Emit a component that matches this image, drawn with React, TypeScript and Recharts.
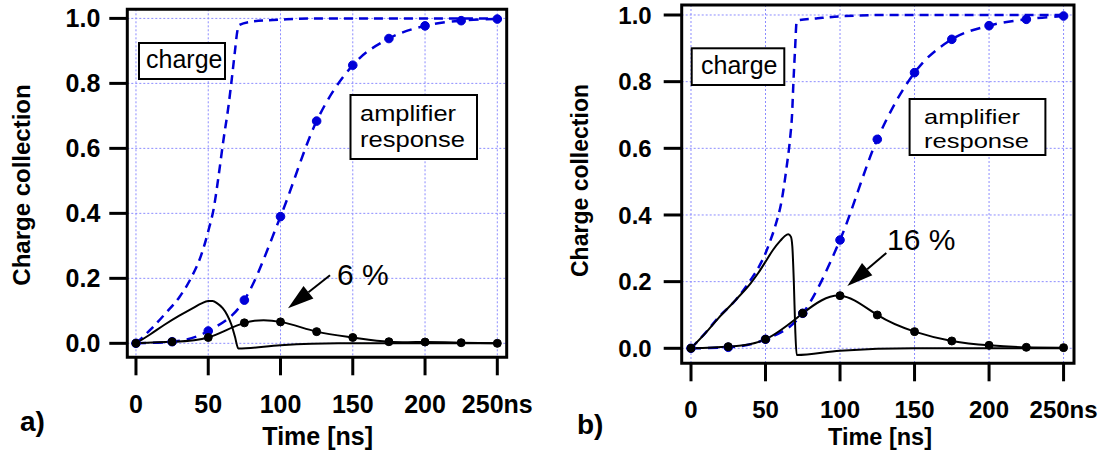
import React from 'react';
import { LineChart, Line, XAxis, YAxis, CartesianGrid, ReferenceArea, ReferenceDot } from 'recharts';

const FONT = '"Liberation Sans", Arial, Helvetica, sans-serif';
const BLUE = '#0000d8';
const GRID = '#8c8cff';

const timeTicks = [0, 50, 100, 150, 200, 250];
const chargeTicks = [0, 0.2, 0.4, 0.6, 0.8, 1.0];
const markerTimes = [0, 25, 50, 75, 100, 125, 150, 175, 200, 225, 250];

// panel a) : 6 %
const chargeTimesA = [0, 10, 20, 30, 38, 45, 50, 54, 57, 60.5, 64, 66.2, 68.5, 70.1, 71.5, 80, 100, 120, 250];
const chargeA = [0, 0.042, 0.09, 0.142, 0.2, 0.27, 0.345, 0.42, 0.51, 0.625, 0.73, 0.81, 0.9, 0.96, 0.98, 0.99, 0.996, 1.0, 1.0];
const currentTimesA = [0, 10, 20, 30, 40, 45, 50, 53, 56, 60, 63, 66, 68.5, 70.8, 100, 140, 250];
const currentA = [0, 0.028, 0.058, 0.085, 0.11, 0.122, 0.13, 0.13, 0.124, 0.108, 0.088, 0.058, 0.02, -0.016, -0.006, 0, 0];
const ampA = [0, 0.005, 0.038, 0.133, 0.39, 0.684, 0.856, 0.938, 0.977, 0.993, 0.998];
const outA = [0, 0.005, 0.018, 0.063, 0.066, 0.036, 0.018, 0.005, 0.004, 0.002, 0];

// panel b) : 16 %
const chargeTimesB = [0, 10, 18.3, 30, 40, 45, 50, 53, 56.4, 60.9, 64.2, 66.5, 67.8, 68.7, 69.8, 70.9, 72, 85, 100, 130, 250];
const chargeB = [0, 0.048, 0.092, 0.145, 0.205, 0.24, 0.285, 0.32, 0.365, 0.445, 0.545, 0.63, 0.7, 0.795, 0.895, 0.98, 0.984, 0.99, 0.996, 1.0, 1.0];
const currentTimesB = [0, 10, 18.3, 30, 40, 45, 50, 55, 60, 63, 65.3, 67, 68, 69, 70, 70.9, 100, 150, 250];
const currentB = [0, 0.047, 0.09, 0.145, 0.195, 0.225, 0.26, 0.295, 0.323, 0.337, 0.342, 0.335, 0.305, 0.2, 0.05, -0.02, -0.007, 0, 0];
const ampB = [0, 0.003, 0.027, 0.105, 0.325, 0.627, 0.827, 0.927, 0.968, 0.987, 0.997];
const outB = [0, 0.005, 0.027, 0.105, 0.158, 0.1, 0.05, 0.022, 0.009, 0.003, 0.002];

const rows = (ts: number[], vs: number[]) => ts.map((t, i) => ({ t, v: vs[i] }));

function Arrow({ cx, cy, dx, dy }: { cx: number; cy: number; dx: number; dy: number }) {
  const len = Math.hypot(dx, dy);
  const ux = dx / len, uy = dy / len;
  const head = 26, half = 8;
  const bx = cx + ux * head, by = cy + uy * head;
  return (
    <g>
      <line x1={cx + dx} y1={cy + dy} x2={bx} y2={by} stroke="#000" strokeWidth={2} />
      <polygon
        points={`${cx},${cy} ${bx - uy * half},${by + ux * half} ${bx + uy * half},${by - ux * half}`}
        fill="#000"
      />
    </g>
  );
}

type PanelProps = {
  left: number;
  width: number;
  plotLeft: number;
  plotTop: number;
  plotRight: number;
  plotBottom: number;
  xDomain: [number, number];
  yDomain: [number, number];
  fontSize: number;
  yTickMargin: number;
  charge: { t: number; v: number }[];
  current: { t: number; v: number }[];
  amp: { t: number; v: number }[];
  out: { t: number; v: number }[];
  arrow: { x: number; y: number; dx: number; dy: number };
};

function Panel(p: PanelProps) {
  const tickStyle = { fill: '#000', fontSize: p.fontSize, fontWeight: 'bold', fontFamily: FONT };
  return (
    <div style={{ position: 'absolute', left: p.left, top: 0 }}>
      <LineChart
        width={p.width}
        height={453}
        margin={{ top: p.plotTop, right: p.width - (p.plotRight - p.left), bottom: 0, left: 0 }}
      >
        <CartesianGrid stroke={GRID} strokeDasharray="2 2" />
        <XAxis
          dataKey="t"
          type="number"
          domain={p.xDomain}
          allowDataOverflow
          ticks={timeTicks}
          interval={0}
          tickFormatter={(t: number) => (t === 250 ? '250ns' : String(t))}
          tick={tickStyle}
          axisLine={false}
          tickLine={{ stroke: '#000', strokeWidth: 3 }}
          tickSize={18}
          tickMargin={20}
          height={453 - p.plotBottom}
        />
        <YAxis
          type="number"
          domain={p.yDomain}
          allowDataOverflow
          ticks={chargeTicks}
          interval={0}
          tickFormatter={(v: number) => v.toFixed(1)}
          tick={tickStyle}
          axisLine={false}
          tickLine={{ stroke: '#000', strokeWidth: 3 }}
          tickSize={18}
          tickMargin={p.yTickMargin}
          width={p.plotLeft - p.left}
        />
        <ReferenceArea
          x1={p.xDomain[0]}
          x2={p.xDomain[1]}
          y1={p.yDomain[0]}
          y2={p.yDomain[1]}
          fill="none"
          stroke="#000"
          strokeWidth={3}
          ifOverflow="visible"
        />
        <Line data={p.charge} dataKey="v" type="monotone" stroke={BLUE} strokeWidth={2.5}
          strokeDasharray="9 6" dot={false} activeDot={false} isAnimationActive={false} />
        <Line data={p.amp} dataKey="v" type="monotone" stroke={BLUE} strokeWidth={2.5}
          strokeDasharray="10 7" dot={{ r: 4.3, fill: BLUE, stroke: BLUE, strokeWidth: 1, strokeDasharray: '' }}
          activeDot={false} isAnimationActive={false} />
        <Line data={p.current} dataKey="v" type="monotone" stroke="#000" strokeWidth={2}
          dot={false} activeDot={false} isAnimationActive={false} />
        <Line data={p.out} dataKey="v" type="natural" stroke="#000" strokeWidth={2}
          dot={{ r: 4, fill: '#000', stroke: '#000', strokeWidth: 1 }} activeDot={false} isAnimationActive={false} />
        <ReferenceDot
          x={p.arrow.x}
          y={p.arrow.y}
          ifOverflow="visible"
          shape={(s: any) => <Arrow cx={s.cx} cy={s.cy} dx={p.arrow.dx} dy={p.arrow.dy} />}
        />
      </LineChart>
    </div>
  );
}

export default function App() {
  const txt = { fontFamily: FONT, fill: '#000' };
  return (
    <div style={{ position: 'absolute', left: 0, top: 0, width: 1102, height: 453, background: '#fff', overflow: 'hidden' }}>
      <Panel
        left={0}
        width={540}
        plotLeft={127.3}
        plotTop={9.3}
        plotRight={506.7}
        plotBottom={357.3}
        xDomain={[-6, 256.5]}
        yDomain={[-0.043, 1.028]}
        fontSize={25}
        yTickMargin={9}
        charge={rows(chargeTimesA, chargeA)}
        current={rows(currentTimesA, currentA)}
        amp={rows(markerTimes, ampA)}
        out={rows(markerTimes, outA)}
        arrow={{ x: 105.2, y: 0.108, dx: 42, dy: -33 }}
      />
      <Panel
        left={550}
        width={552}
        plotLeft={681.7}
        plotTop={5}
        plotRight={1074}
        plotBottom={363.3}
        xDomain={[-6.24, 257]}
        yDomain={[-0.045, 1.03]}
        fontSize={24}
        yTickMargin={12}
        charge={rows(chargeTimesB, chargeB)}
        current={rows(currentTimesB, currentB)}
        amp={rows(markerTimes, ampB)}
        out={rows(markerTimes, outB)}
        arrow={{ x: 104.9, y: 0.187, dx: 39, dy: -33 }}
      />
      <svg width={1102} height={453} style={{ position: 'absolute', left: 0, top: 0, pointerEvents: 'none' }}>
        {/* panel a */}
        <text {...txt} x={30} y={185} fontSize={24} fontWeight="bold" textAnchor="middle" transform="rotate(-90 30 185)">
          Charge collection
        </text>
        <text {...txt} x={317.7} y={445} fontSize={25} fontWeight="bold" textAnchor="middle">Time [ns]</text>
        <text {...txt} x={20} y={431} fontSize={28} fontWeight="bold">a)</text>
        <rect x={139} y={43} width={86} height={36} fill="#fff" stroke="#000" strokeWidth={2} />
        <text {...txt} x={146} y={68} fontSize={25}>charge</text>
        <rect x={350.5} y={95} width={126.5} height={64} fill="#fff" stroke="#000" strokeWidth={2} />
        <text {...txt} x={360} y={121} fontSize={22} textLength={96} lengthAdjust="spacingAndGlyphs">amplifier</text>
        <text {...txt} x={360} y={147} fontSize={22} textLength={105} lengthAdjust="spacingAndGlyphs">response</text>
        <text {...txt} x={337} y={285} fontSize={30}>6 %</text>
        {/* panel b */}
        <text {...txt} x={588} y={180.5} fontSize={23} fontWeight="bold" textAnchor="middle" transform="rotate(-90 588 180.5)">
          Charge collection
        </text>
        <text {...txt} x={880} y={445} fontSize={23.5} fontWeight="bold" textAnchor="middle">Time [ns]</text>
        <text {...txt} x={577} y={434} fontSize={28} fontWeight="bold">b)</text>
        <rect x={691.7} y={48.3} width={92.6} height={36.7} fill="#fff" stroke="#000" strokeWidth={2} />
        <text {...txt} x={701} y={74} fontSize={25}>charge</text>
        <rect x={909.6} y={99} width={135.8} height={56} fill="#fff" stroke="#000" strokeWidth={2} />
        <text {...txt} x={924} y={124} fontSize={21} textLength={96} lengthAdjust="spacingAndGlyphs">amplifier</text>
        <text {...txt} x={924} y={148} fontSize={21} textLength={105} lengthAdjust="spacingAndGlyphs">response</text>
        <text {...txt} x={887} y={250} fontSize={30}>16 %</text>
      </svg>
    </div>
  );
}
